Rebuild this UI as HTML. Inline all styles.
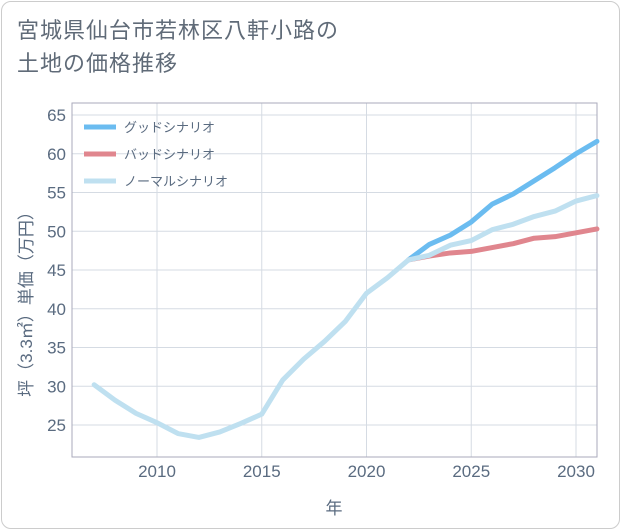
<!DOCTYPE html>
<html><head><meta charset="utf-8"><style>
body{margin:0;background:#fff;font-family:"Liberation Sans","Noto Sans CJK JP",sans-serif;}
#card{position:absolute;left:1px;top:1px;width:617px;height:526px;border:1px solid #ccc;border-radius:10px;background:#fff;}
#title{position:absolute;left:17px;top:14px;font-size:22px;line-height:33px;color:#606b78;letter-spacing:1px;}
</style></head><body>
<div id="card"></div>
<div id="title">宮城県仙台市若林区八軒小路の<br>土地の価格推移</div>
<svg id="chart" width="621" height="530" style="position:absolute;left:0;top:0"></svg>
<script>
const years=[2007,2008,2009,2010,2011,2012,2013,2014,2015,2016,2017,2018,2019,2020,2021,2022];
const baseVals=[30.2,28.2,26.5,25.3,23.9,23.4,24.1,25.2,26.4,30.8,33.5,35.8,38.4,42.0,44.0,46.3];
const futYears=[2022,2023,2024,2025,2026,2027,2028,2029,2030,2031];
const goodVals=[46.3,48.3,49.5,51.2,53.5,54.8,56.5,58.2,60.0,61.6];
const badVals=[46.3,46.8,47.2,47.4,47.9,48.4,49.1,49.3,49.8,50.3];
const normVals=[46.3,46.9,48.2,48.8,50.2,50.9,51.9,52.6,53.9,54.6];
const xTicks=[2010,2015,2020,2025,2030];
const yTicks=[25,30,35,40,45,50,55,60,65];
const L=72,R=597,T=103,B=457;
const TC='#5a6b80';
const x=v=>157+(v-2010)*20.95;
const y=v=>425-(v-25)*7.75;
const svg=document.getElementById('chart');
const NS='http://www.w3.org/2000/svg';
function mk(t,a){const e=document.createElementNS(NS,t);for(const k in a)e.setAttribute(k,a[k]);svg.appendChild(e);return e;}
const bg=mk('rect',{x:L,y:T,width:R-L,height:B-T,fill:'#fff'});


yTicks.forEach(v=>{
 const g=mk('line',{x1:L,x2:R,y1:y(v),y2:y(v),stroke:'#d5dbe3','stroke-width':1});
 
 
 const t=mk('text',{x:L-6,y:y(v)+6,'text-anchor':'end','font-size':17,fill:TC});
 t.textContent=v;
 
 
});
xTicks.forEach(v=>{
 const g=mk('line',{x1:x(v),x2:x(v),y1:T,y2:B,stroke:'#d5dbe3','stroke-width':1});
 
 
 const t=mk('text',{x:x(v),y:B+20,'text-anchor':'middle','font-size':17,fill:TC});
 t.textContent=v;
 
 
});
const bd=mk('rect',{x:L,y:T,width:R-L,height:B-T,fill:'none',stroke:'#aab','stroke-width':1});


const xt=mk('text',{x:334,y:514,'text-anchor':'middle','font-size':17,fill:TC});
xt.textContent='年';


const yt=mk('text',{x:0,y:0,'text-anchor':'middle','font-size':17,fill:TC,transform:'translate(32,300) rotate(-90)'});
yt.textContent='坪（3.3㎡）単価（万円）';


function line(xs,vs,color,name){
 const p=mk('polyline',{points:xs.map((v,i)=>x(v)+','+y(vs[i])).join(' '),fill:'none',stroke:color,'stroke-width':5,'stroke-linejoin':'round','stroke-linecap':'round'});
 
 
}
line(futYears,goodVals,'#6bbcf0','good-scenario-line');
line(futYears,badVals,'#e0868e','bad-scenario-line');
line(futYears,normVals,'#bfe0f0','normal-scenario-line');
line(years,baseVals,'#bfe0f0','historical-line');
const leg=[['グッドシナリオ','#6bbcf0'],['バッドシナリオ','#e0868e'],['ノーマルシナリオ','#bfe0f0']];
leg.forEach((d,i)=>{
 const yy=127+i*27;
 const l=mk('line',{x1:84,x2:116,y1:yy,y2:yy,stroke:d[1],'stroke-width':5});
 
 
 const t=mk('text',{x:124,y:yy+5,'font-size':13,fill:TC});
 t.textContent=d[0];
 
 
});
</script>
</body></html>
